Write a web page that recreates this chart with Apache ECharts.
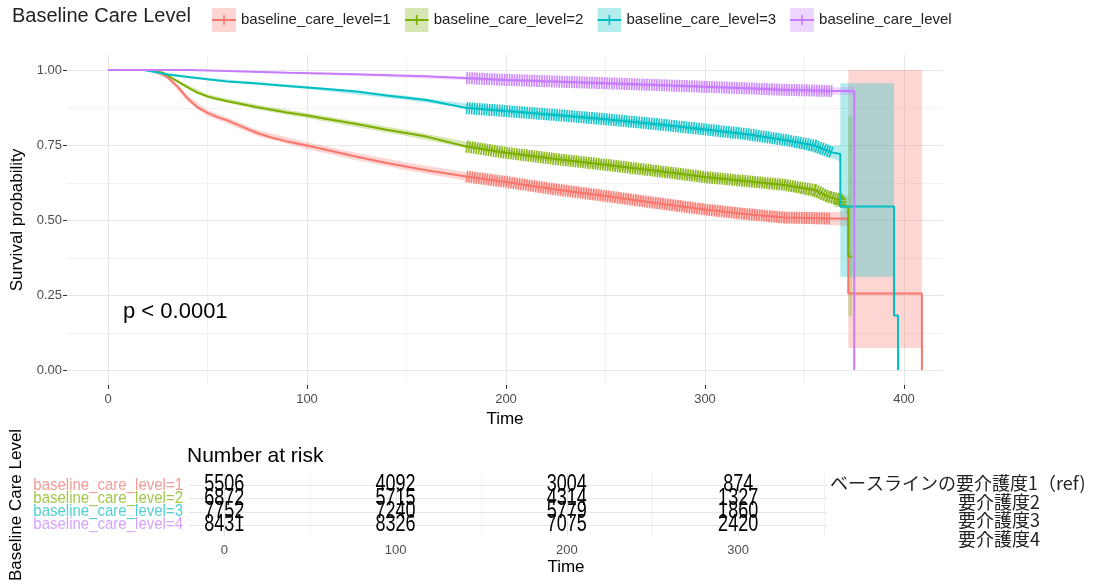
<!DOCTYPE html>
<html><head><meta charset="utf-8">
<script src="https://cdn.jsdelivr.net/npm/echarts@6/dist/echarts.min.js"></script>
<style>html,body{margin:0;padding:0;background:#fff}#c{width:1094px;height:584px}</style>
</head><body><div id="c"></div>
<script>
// ---------------- data ----------------
const groups = ['baseline_care_level=1','baseline_care_level=2','baseline_care_level=3','baseline_care_level=4'];
const legendLabels = ['baseline_care_level=1','baseline_care_level=2','baseline_care_level=3','baseline_care_level'];
const colors = ['#F8766D','#7CAE00','#00BFC4','#C77CFF'];
const labelColors = ['#F39B95','#A2C64A','#4FD0D4','#D6A2FF'];

// Kaplan-Meier curves (time, survival)
const time1 = [0,20,25,30,35,40,45,50,55,60,67,75,82,90,100,110,125,140,160,180,200,225,250,275,300,320,340,363,372,372,409,409];
const surv1 = [1,1,0.995,0.975,0.945,0.905,0.875,0.857,0.843,0.832,0.812,0.79,0.775,0.762,0.748,0.733,0.711,0.69,0.666,0.645,0.627,0.602,0.58,0.557,0.535,0.52,0.508,0.505,0.505,0.255,0.255,0];
const time2 = [0,22,28,35,40,45,50,55,60,75,90,100,110,125,140,160,180,200,225,250,275,300,320,340,355,362,368,368,372,372,374];
const surv2 = [1,1,0.99,0.962,0.942,0.924,0.912,0.903,0.896,0.876,0.858,0.848,0.837,0.82,0.801,0.778,0.745,0.724,0.703,0.684,0.664,0.643,0.63,0.617,0.6,0.578,0.567,0.545,0.545,0.378,0.378];
const time3 = [0,18,25,30,40,50,60,75,90,100,110,125,140,160,180,200,225,250,275,300,320,340,355,364,368,368,395,395,397,397];
const surv3 = [1,1,0.992,0.985,0.977,0.969,0.962,0.955,0.947,0.942,0.937,0.928,0.915,0.9,0.873,0.863,0.85,0.836,0.82,0.802,0.787,0.767,0.748,0.725,0.72,0.545,0.545,0.182,0.182,0];
const time4 = [0,40,60,90,125,160,180,200,250,300,340,364,375,375];
const surv4 = [1,1,0.997,0.991,0.986,0.979,0.973,0.967,0.956,0.944,0.934,0.93,0.93,0];

// confidence bands (time, lower, upper)
const band1T  = [0,20,30,40,50,60,75,100,125,150,180,200,250,300,340,363,372,372,409];
const band1Lo = [1,1,0.968,0.895,0.847,0.822,0.78,0.737,0.699,0.666,0.631,0.613,0.565,0.52,0.49,0.484,0.478,0.073,0.073];
const band1Hi = [1,1,0.982,0.915,0.867,0.842,0.8,0.759,0.723,0.692,0.659,0.641,0.595,0.552,0.526,0.526,0.53,1,1];
const band2T  = [0,22,35,50,75,100,150,200,250,300,340,362,368,372,372,374];
const band2Lo = [1,1,0.957,0.905,0.868,0.839,0.78,0.713,0.672,0.63,0.603,0.56,0.545,0.52,0.178,0.178];
const band2Hi = [1,1,0.967,0.919,0.884,0.857,0.8,0.735,0.696,0.656,0.631,0.596,0.59,0.58,0.844,0.844];
const band3T  = [0,18,50,100,150,200,250,300,340,364,368,368,395];
const band3Lo = [1,1,0.965,0.937,0.9,0.855,0.827,0.792,0.755,0.705,0.695,0.311,0.311];
const band3Hi = [1,1,0.973,0.947,0.914,0.871,0.845,0.812,0.779,0.745,0.75,0.956,0.956];
const band4T  = [0,40,100,200,300,340,364,375];
const band4Lo = [1,1,0.987,0.962,0.938,0.926,0.918,0.915];
const band4Hi = [1,1,0.993,0.972,0.95,0.942,0.942,0.945];

// censoring marks (dense) span
const censorStart = [180,180,180,180];
const censorEnd = [363,368,364,364];

// number at risk
const riskTimes = [0,100,200,300];
const risk1 = [5506,4092,3004,874];
const risk2 = [6872,5715,4314,1327];
const risk3 = [7752,7240,5779,1860];
const risk4 = [8431,8326,7075,2420];

// ticks
const xTicks = [0,100,200,300,400];
const xMinor = [50,150,250,350];
const yTicks = [0,0.25,0.5,0.75,1];
const yMinor = [0.125,0.375,0.625,0.875];
const riskRows = [1,2,3,4];

// ---------------- build ----------------
const FONT = '"Liberation Sans", Arial, Helvetica, sans-serif';
const curves = [[time1,surv1],[time2,surv2],[time3,surv3],[time4,surv4]];
const bands = [[band1T,band1Lo,band1Hi],[band2T,band2Lo,band2Hi],[band3T,band3Lo,band3Hi],[band4T,band4Lo,band4Hi]];
const risks = [risk1,risk2,risk3,risk4];

function keyIcon(c){
  const svg = '<svg xmlns="http://www.w3.org/2000/svg" width="24" height="24">'+
    '<rect width="24" height="24" fill="'+c+'" fill-opacity="0.3"/>'+
    '<line x1="0" y1="12" x2="24" y2="12" stroke="'+c+'" stroke-width="2"/>'+
    '<line x1="12" y1="7" x2="12" y2="17" stroke="'+c+'" stroke-width="1.6"/></svg>';
  return 'image://data:image/svg+xml;charset=utf-8,' + encodeURIComponent(svg);
}

function gridLines(xi, yi, vMajX, vMinX, vMajY, vMinY, xRef, yRef){
  return {
    type:'custom', xAxisIndex:xi, yAxisIndex:yi, data:[[xRef,yRef]], silent:true, z:0, clip:false,
    renderItem(params, api){
      const cs = params.coordSys, ch = [];
      const v = (val,col,w)=>{ const x = Math.round(api.coord([val,yRef])[0])+0.5;
        ch.push({type:'line', shape:{x1:x,y1:cs.y,x2:x,y2:cs.y+cs.height}, style:{stroke:col,lineWidth:w}}); };
      const h = (val,col,w)=>{ const y = Math.round(api.coord([xRef,val])[1])+0.5;
        ch.push({type:'line', shape:{x1:cs.x,y1:y,x2:cs.x+cs.width,y2:y}, style:{stroke:col,lineWidth:w}}); };
      vMinX.forEach(a=>v(a,'#f2f2f2',1)); vMinY.forEach(a=>h(a,'#f2f2f2',1));
      vMajX.forEach(a=>v(a,'#e6e6e6',1)); vMajY.forEach(a=>h(a,'#e6e6e6',1));
      return {type:'group', children:ch};
    }
  };
}

const series = [];
series.push(gridLines(0,0,xTicks,xMinor,yTicks,yMinor,200,0.5));
series.push(gridLines(1,1,xTicks,xMinor,riskRows,[],200,2));

bands.forEach((b,g)=>{
  series.push({
    type:'custom', name:'ci'+g, xAxisIndex:0, yAxisIndex:0, data:[[b[0][0],b[2][0]]], silent:true, z:1,
    renderItem(params, api){
      const pts = [];
      for (let i=0;i<b[0].length;i++) pts.push(api.coord([b[0][i], b[2][i]]));
      for (let i=b[0].length-1;i>=0;i--) pts.push(api.coord([b[0][i], b[1][i]]));
      return {type:'polygon', shape:{points:pts}, style:{fill:colors[g], opacity:0.3}};
    }
  });
});

curves.forEach((c,g)=>{
  const pts = c[0].map((t,i)=>[t,c[1][i]]);
  series.push({
    type:'line', name:groups[g], xAxisIndex:0, yAxisIndex:0, data:pts, showSymbol:false, symbol:'none',
    lineStyle:{color:colors[g], width:2}, itemStyle:{color:colors[g]}, z:3, silent:true
  });
  const cen = pts.filter(p=>p[0]>=censorStart[g] && p[0]<=censorEnd[g]);
  series.push({
    type:'line', name:'censor'+g, xAxisIndex:0, yAxisIndex:0, data:cen, showSymbol:false, symbol:'none',
    lineStyle:{color:colors[g], width:12, type:[1.6,0.9], opacity:0.9}, z:2, silent:true
  });
});

// row labels of the risk table
series.push({
  type:'custom', name:'riskLabels', xAxisIndex:1, yAxisIndex:1, data:riskRows.map(r=>[-20.6, r]), silent:true, z:5, clip:false,
  renderItem(params, api){
    const cs = params.coordSys;
    const r = api.value(1);
    const p = api.coord([api.value(0), r]);
    return {type:'text', x:cs.x-6, y:p[1], scaleY:1.1, style:{text:groups[r-1], x:0, y:0,
      align:'right', verticalAlign:'middle', textAlign:'right', textVerticalAlign:'middle',
      fontSize:15, fontFamily:FONT, fill:labelColors[r-1]}};
  }
});

const riskData = [];
risks.forEach((r,g)=>riskTimes.forEach((t,i)=>riskData.push([t, riskRows[g], r[i]])));
series.push({
  type:'custom', name:'risk', xAxisIndex:1, yAxisIndex:1, data:riskData, silent:true, z:6, clip:false,
  renderItem(params, api){
    const p = api.coord([api.value(0), api.value(1)]);
    return {type:'text', x:p[0], y:p[1], scaleY:1.3, style:{text:String(api.value(2)), x:0, y:0,
      align:'center', verticalAlign:'middle', textAlign:'center', textVerticalAlign:'middle',
      fontSize:18, fontFamily:FONT, fill:'#000'}};
  }
});

const option = {
  animation:false,
  textStyle:{fontFamily:FONT},
  legend:{
    left:207, top:3, itemWidth:24, itemHeight:24, itemGap:14,
    data: groups.map((g,i)=>({name:g, icon:keyIcon(colors[i])})),
    formatter: name => legendLabels[groups.indexOf(name)],
    textStyle:{fontSize:15, color:'#222', fontFamily:FONT},
    selectedMode:false
  },
  grid:[
    {left:67, top:55, width:876, height:330, containLabel:false},
    {left:186, top:473, width:757, height:64, containLabel:false}
  ],
  xAxis:[
    {type:'value', gridIndex:0, min:-20.6, max:419.6,
     axisLine:{show:false, onZero:false}, splitLine:{show:false},
     axisTick:{show:true, length:4, customValues:xTicks, lineStyle:{color:'#333'}},
     axisLabel:{customValues:xTicks, color:'#4d4d4d', fontSize:13, margin:8},
     name:'Time', nameLocation:'middle', nameGap:24, nameTextStyle:{fontSize:17, color:'#000'}},
    {type:'value', gridIndex:1, min:-20.6, max:419.6,
     axisLine:{show:false, onZero:false}, splitLine:{show:false}, axisTick:{show:false},
     axisLabel:{customValues:xTicks, color:'#4d4d4d', fontSize:13, margin:7},
     name:'Time', nameLocation:'middle', nameGap:22, nameTextStyle:{fontSize:17, color:'#000'}}
  ],
  yAxis:[
    {type:'value', gridIndex:0, min:-0.05, max:1.05,
     axisLine:{show:false, onZero:false}, splitLine:{show:false},
     axisTick:{show:true, length:4, customValues:yTicks, lineStyle:{color:'#333'}},
     axisLabel:{customValues:yTicks, color:'#4d4d4d', fontSize:13, margin:5, formatter:v=>v.toFixed(2)},
     name:'Survival probability', nameLocation:'middle', nameGap:40, nameTextStyle:{fontSize:17, color:'#000'}},
    {type:'value', gridIndex:1, min:0.1, max:4.9, inverse:true,
     axisLine:{show:false, onZero:false}, splitLine:{show:false}, axisTick:{show:false},
     axisLabel:{show:false},
     name:'Baseline Care Level', nameLocation:'middle', nameGap:164, nameTextStyle:{fontSize:17, color:'#000'}}
  ],
  graphic:[
    {type:'text', left:12, top:6, z:100, style:{text:'Baseline Care Level', fontSize:20, fontFamily:FONT, fill:'#222'}},
    {type:'text', left:123, top:301, z:100, style:{text:'p < 0.0001', fontSize:22, fontFamily:FONT, fill:'#000'}},
    {type:'text', left:187, top:446, z:100, style:{text:'Number at risk', fontSize:21, fontFamily:FONT, fill:'#000'}},
    {type:'rect', left:827, top:468, z:99, shape:{width:267, height:88}, style:{fill:'#fff'}},
    {type:'text', left:830, top:474, z:100, style:{text:'ベースラインの要介護度1（ref)', fontSize:18, fontFamily:'"Noto Sans CJK JP", sans-serif', fill:'#222'}},
    {type:'text', left:958, top:493, z:100, style:{text:'要介護度2', fontSize:18, fontFamily:'"Noto Sans CJK JP", sans-serif', fill:'#222'}},
    {type:'text', left:958, top:511, z:100, style:{text:'要介護度3', fontSize:18, fontFamily:'"Noto Sans CJK JP", sans-serif', fill:'#222'}},
    {type:'text', left:958, top:530, z:100, style:{text:'要介護度4', fontSize:18, fontFamily:'"Noto Sans CJK JP", sans-serif', fill:'#222'}}
  ],
  series: series
};
const chart = echarts.init(document.getElementById('c'));
chart.setOption(option);
</script>
</body></html>
